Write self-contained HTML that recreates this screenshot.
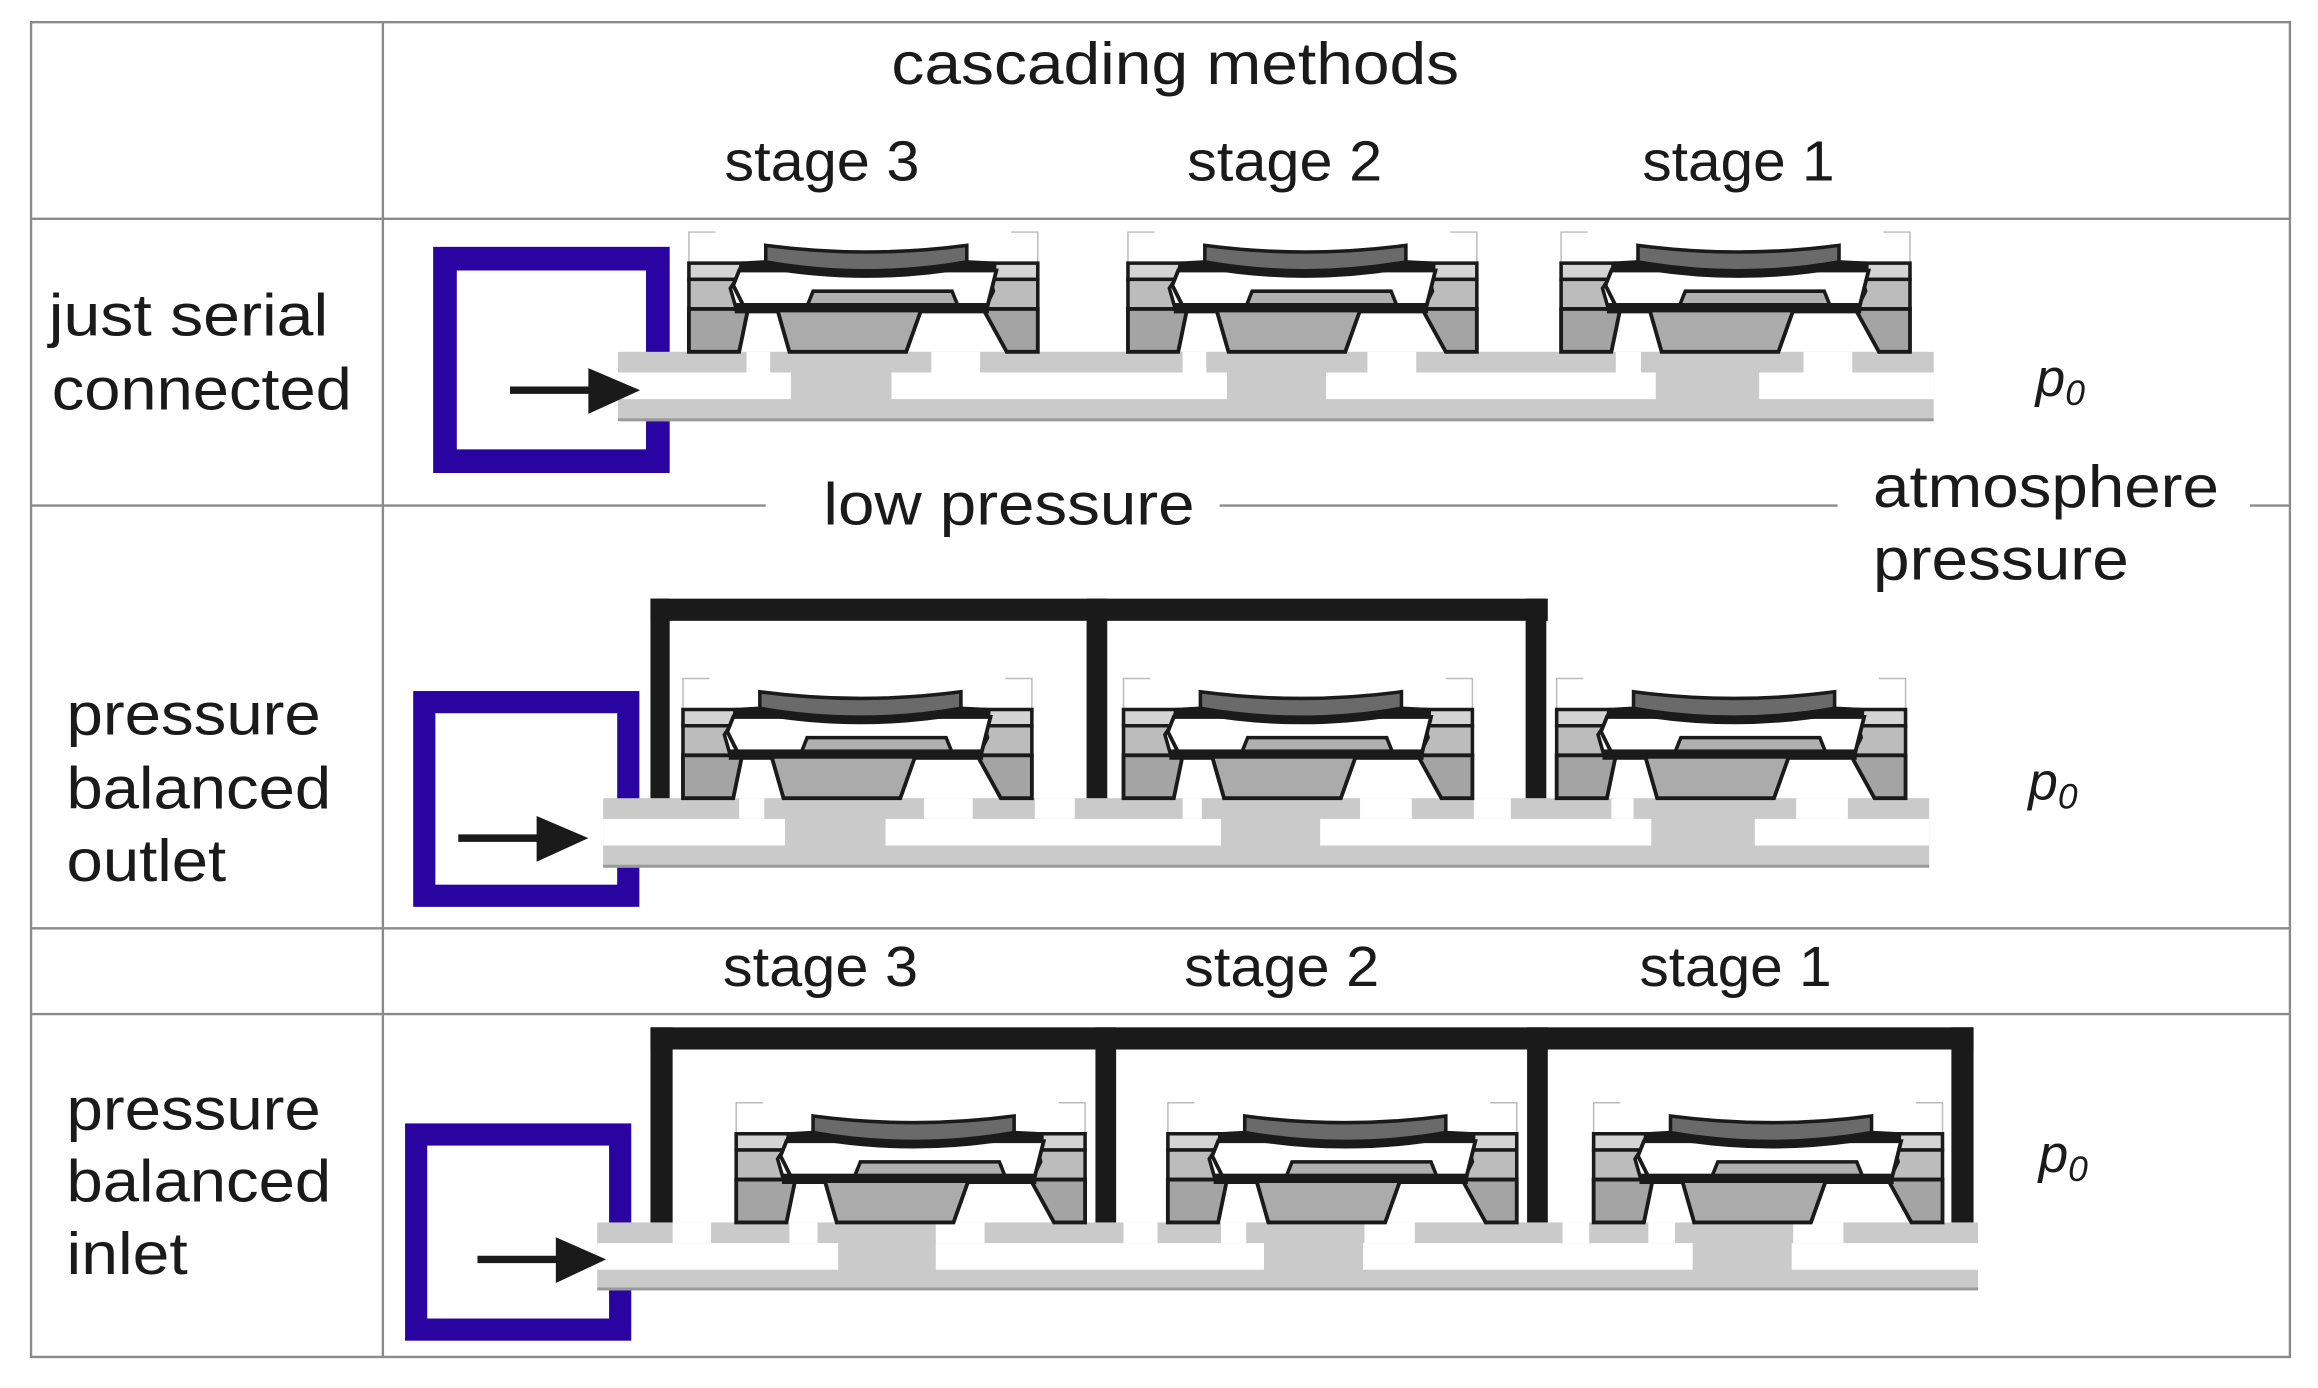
<!DOCTYPE html>
<html><head><meta charset="utf-8"><style>
html,body{margin:0;padding:0;background:#fff}
svg{display:block}
text{font-family:"Liberation Sans",sans-serif;fill:#1a1a1a}
</style></head><body>
<svg width="2318" height="1388" viewBox="0 0 1568 939" preserveAspectRatio="none" xmlns="http://www.w3.org/2000/svg">
<defs>
<g id="v">
<path d="M0,21 V0 H18 M218,0 H236 V21" fill="none" stroke="#bbb" stroke-width="1"/>
<polygon points="0,21 36,21 32,32 0,32" fill="#d4d4d4" stroke="#1a1a1a" stroke-width="2.4"/>
<polygon points="0,32 32,32 28,38 32,52 0,52" fill="#bcbcbc" stroke="#1a1a1a" stroke-width="2.4"/>
<polygon points="0,52 40,52 34,81 0,81" fill="#a4a4a4" stroke="#1a1a1a" stroke-width="2.6"/>
<polygon points="200,21 236,21 236,32 204,32" fill="#d4d4d4" stroke="#1a1a1a" stroke-width="2.4"/>
<polygon points="204,32 236,32 236,52 200,52 206,40" fill="#bcbcbc" stroke="#1a1a1a" stroke-width="2.4"/>
<polygon points="199,52 236,52 236,81 215,81" fill="#a4a4a4" stroke="#1a1a1a" stroke-width="2.6"/>
<polygon points="34,26 208,26 202,50 38,52 30,36" fill="#fff" stroke="#1a1a1a" stroke-width="2.6"/>
<path d="M52,9 Q120,18 188,9 L188,22 Q120,34 52,22 Z" fill="#6a6a6a" stroke="#1a1a1a" stroke-width="2.4"/>
<path d="M34,23 L52,22 Q120,34 188,22 L208,23" fill="none" stroke="#1a1a1a" stroke-width="6"/>
<polygon points="80,50 84,40 178,40 182,50" fill="#b0b0b0" stroke="#1a1a1a" stroke-width="2.4"/>
<rect x="31" y="48" width="172" height="7" fill="#1a1a1a"/>
<polygon points="60,53 157,53 147,81 68,81" fill="#ababab" stroke="#1a1a1a" stroke-width="2.6"/>
</g>
</defs>

<g stroke="#8a8a8a" stroke-width="1.6" fill="none">
<rect x="21" y="15" width="1528" height="903"/>
<line x1="259" y1="15" x2="259" y2="918"/>
<line x1="21" y1="148" x2="1549" y2="148"/>
<line x1="21" y1="342" x2="518" y2="342"/>
<line x1="825" y1="342" x2="1243" y2="342"/>
<line x1="1522" y1="342" x2="1549" y2="342"/>
<line x1="21" y1="628" x2="1549" y2="628"/>
<line x1="21" y1="686" x2="1549" y2="686"/>
</g>

<text x="603" y="57" font-size="40" textLength="384" lengthAdjust="spacingAndGlyphs">cascading methods</text>
<text x="490" y="122" font-size="38" textLength="132" lengthAdjust="spacingAndGlyphs">stage 3</text>
<text x="803" y="122" font-size="38" textLength="132" lengthAdjust="spacingAndGlyphs">stage 2</text>
<text x="1111" y="122" font-size="38" textLength="130" lengthAdjust="spacingAndGlyphs">stage 1</text>
<text x="33" y="227" font-size="40" textLength="189" lengthAdjust="spacingAndGlyphs">just serial</text>
<text x="35" y="277" font-size="40" textLength="203" lengthAdjust="spacingAndGlyphs">connected</text>
<text x="557" y="355" font-size="40" textLength="251" lengthAdjust="spacingAndGlyphs">low pressure</text>
<text x="1267" y="343" font-size="40" textLength="234" lengthAdjust="spacingAndGlyphs">atmosphere</text>
<text x="1267" y="392" font-size="40" textLength="173" lengthAdjust="spacingAndGlyphs">pressure</text>
<text x="45" y="497" font-size="40" textLength="172" lengthAdjust="spacingAndGlyphs">pressure</text>
<text x="45" y="547" font-size="40" textLength="179" lengthAdjust="spacingAndGlyphs">balanced</text>
<text x="45" y="596" font-size="40" textLength="108" lengthAdjust="spacingAndGlyphs">outlet</text>
<text x="489" y="667" font-size="38" textLength="132" lengthAdjust="spacingAndGlyphs">stage 3</text>
<text x="801" y="667" font-size="38" textLength="132" lengthAdjust="spacingAndGlyphs">stage 2</text>
<text x="1109" y="667" font-size="38" textLength="130" lengthAdjust="spacingAndGlyphs">stage 1</text>
<text x="45" y="764" font-size="40" textLength="172" lengthAdjust="spacingAndGlyphs">pressure</text>
<text x="45" y="813" font-size="40" textLength="179" lengthAdjust="spacingAndGlyphs">balanced</text>
<text x="45" y="862" font-size="40" textLength="82" lengthAdjust="spacingAndGlyphs">inlet</text>
<text x="1377" y="268" font-size="36" font-style="italic">p<tspan font-size="24" dy="6">0</tspan></text>
<text x="1372" y="541" font-size="36" font-style="italic">p<tspan font-size="24" dy="6">0</tspan></text>
<text x="1379" y="793" font-size="36" font-style="italic">p<tspan font-size="24" dy="6">0</tspan></text>

<rect x="301" y="175" width="144" height="137" fill="none" stroke="#2a04a0" stroke-width="16"/>
<g>
<rect x="418" y="238" width="890" height="47" fill="#cacaca"/>
<rect x="418" y="252" width="890" height="18" fill="#fff"/>
<rect x="418" y="283" width="890" height="2" fill="#9a9a9a"/>
<g fill="#fff"><rect x="505" y="238" width="16" height="14"/><rect x="630" y="238" width="33" height="14"/><rect x="800" y="238" width="16" height="14"/><rect x="925" y="238" width="33" height="14"/><rect x="1093" y="238" width="17" height="14"/><rect x="1220" y="238" width="33" height="14"/></g>
<g fill="#cacaca"><rect x="535" y="250" width="68" height="22"/><rect x="830" y="250" width="67" height="22"/><rect x="1120" y="250" width="70" height="22"/></g>
</g>
<use href="#v" x="466" y="157"/><use href="#v" x="763" y="157"/><use href="#v" x="1056" y="157"/>
<line x1="345" y1="264" x2="405" y2="264" stroke="#1a1a1a" stroke-width="5"/>
<polygon points="398,249 433,264 398,280" fill="#1a1a1a"/>

<rect x="287" y="475" width="138" height="131" fill="none" stroke="#2a04a0" stroke-width="15"/>
<g>
<rect x="408" y="540" width="897" height="47" fill="#cacaca"/>
<rect x="408" y="554" width="897" height="18" fill="#fff"/>
<rect x="408" y="585" width="897" height="2" fill="#9a9a9a"/>
<g fill="#fff"><rect x="500" y="540" width="17" height="14"/><rect x="625" y="540" width="33" height="14"/><rect x="700" y="540" width="27" height="14"/><rect x="800" y="540" width="13" height="14"/><rect x="920" y="540" width="35" height="14"/><rect x="997" y="540" width="25" height="14"/><rect x="1090" y="540" width="15" height="14"/><rect x="1215" y="540" width="35" height="14"/></g>
<g fill="#cacaca"><rect x="531" y="552" width="68" height="22"/><rect x="826" y="552" width="67" height="22"/><rect x="1117" y="552" width="70" height="22"/></g>
</g>
<use href="#v" x="462" y="459"/><use href="#v" x="760" y="459"/><use href="#v" x="1053" y="459"/>
<g fill="#1a1a1a"><rect x="440" y="405" width="607" height="15"/><rect x="440" y="405" width="13" height="135"/><rect x="735" y="405" width="14" height="135"/><rect x="1032" y="405" width="14" height="135"/></g>
<line x1="310" y1="567" x2="370" y2="567" stroke="#1a1a1a" stroke-width="5"/>
<polygon points="363,552 398,567 363,583" fill="#1a1a1a"/>

<rect x="281.5" y="767.5" width="138" height="132" fill="none" stroke="#2a04a0" stroke-width="15"/>
<g>
<rect x="404" y="827" width="934" height="46" fill="#cacaca"/>
<rect x="404" y="841" width="934" height="18" fill="#fff"/>
<rect x="404" y="871" width="934" height="2" fill="#9a9a9a"/>
<g fill="#fff"><rect x="455" y="827" width="26" height="14"/><rect x="534" y="827" width="19" height="14"/><rect x="633" y="827" width="33" height="14"/><rect x="760" y="827" width="23" height="14"/><rect x="826" y="827" width="17" height="14"/><rect x="923" y="827" width="34" height="14"/><rect x="1057" y="827" width="18" height="14"/><rect x="1115" y="827" width="18" height="14"/><rect x="1213" y="827" width="34" height="14"/></g>
<g fill="#cacaca"><rect x="567" y="839" width="66" height="22"/><rect x="855" y="839" width="67" height="22"/><rect x="1145" y="839" width="67" height="22"/></g>
</g>
<use href="#v" x="498" y="746"/><use href="#v" x="790" y="746"/><use href="#v" x="1078" y="746"/>
<g fill="#1a1a1a"><rect x="440" y="695" width="895" height="15"/><rect x="440" y="695" width="15" height="132"/><rect x="741" y="695" width="14" height="132"/><rect x="1033" y="695" width="14" height="132"/><rect x="1320" y="695" width="15" height="132"/></g>
<line x1="323" y1="852" x2="383" y2="852" stroke="#1a1a1a" stroke-width="5"/>
<polygon points="376,837 410,852 376,868" fill="#1a1a1a"/>
</svg>
</body></html>
